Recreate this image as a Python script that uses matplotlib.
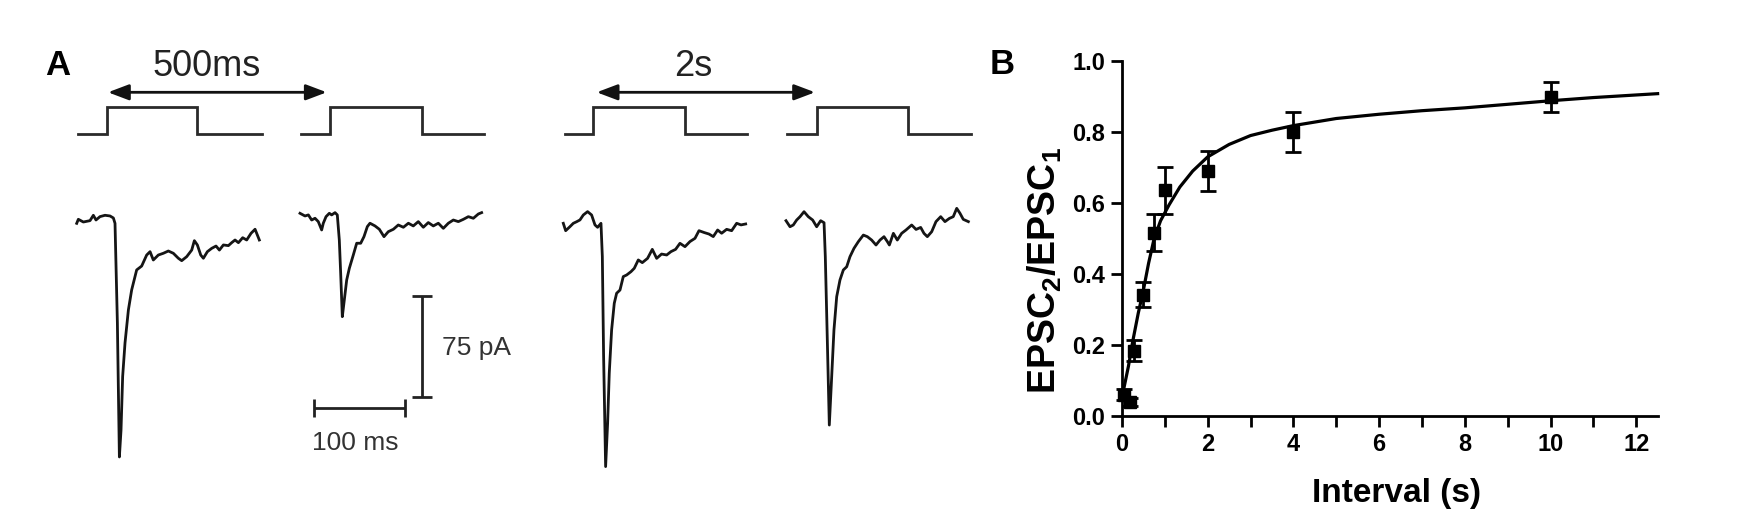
import matplotlib
matplotlib.use('Agg')
import matplotlib.pyplot as plt

# ---------------- data: panel B ----------------
interval_s = [0.05, 0.18, 0.28, 0.5, 0.75, 1.0, 2.0, 4.0, 10.0]
ratio = [0.06, 0.04, 0.184, 0.342, 0.516, 0.636, 0.690, 0.800, 0.899]
ratio_sem = [0.015, 0.012, 0.03, 0.035, 0.052, 0.066, 0.057, 0.055, 0.042]
fit_x = [0.03, 0.15, 0.25, 0.38, 0.5, 0.62, 0.75, 0.9, 1.1, 1.35, 1.65, 2.0,
         2.5, 3.0, 3.5, 4.0, 5.0, 6.0, 7.0, 8.0, 9.0, 10.0, 11.0, 12.5]
fit_y = [0.07, 0.14, 0.21, 0.29, 0.355, 0.43, 0.50, 0.55, 0.595, 0.645, 0.69, 0.73,
         0.765, 0.79, 0.805, 0.818, 0.838, 0.85, 0.86, 0.868, 0.878, 0.888, 0.897, 0.908]
x_ticks = list(range(13))
x_tick_labels = ['0', '', '2', '', '4', '', '6', '', '8', '', '10', '', '12']
y_ticks = [0.0, 0.2, 0.4, 0.6, 0.8, 1.0]
y_tick_labels = ['0.0', '0.2', '0.4', '0.6', '0.8', '1.0']

# ---------------- data: panel A traces (ms, pA) ----------------
trace1_t = [0, 1.8, 7.3, 14.6, 18.3, 21.2, 25.6, 31.1, 36.6, 40.3, 42.1, 44.7, 46.9, 48.7, 50.5,
            53.1, 56.8, 60.4, 65.9, 71.4, 76.9, 80.6, 84.2, 89.7, 95.2, 100.7, 106.2, 111.7, 115.4,
            120.9, 126.4, 129.3, 132.6, 136.3, 139.2, 143.6, 148.4, 153.1, 156.8, 161.2, 166.7,
            170.3, 174.0, 177.7, 182.4, 186.8, 191.6, 196.0, 200.7]
trace1_i = [-1, 2, 0, 1, 5, 1.5, 4, 5, 4.5, 3, -1, -75, -175, -155, -115, -90, -65.5, -50.6,
            -35.7, -32.8, -24.6, -22.1, -28.3, -24.6, -23.3, -21.6, -23.3, -27, -28.8, -25.8,
            -20.9, -13.9, -17.1, -24.6, -27, -22.1, -19.6, -17.9, -20.9, -17.1, -17.6, -15.4,
            -13.4, -15.4, -11.7, -13.4, -8.4, -5.4, -13.4]

trace2_t = [0, 5.5, 9.2, 12.8, 16.5, 20.1, 23.8, 25.6, 28.6, 32.2, 34.8, 38.5, 41, 43.2, 44.7,
            46.5, 48.7, 51.3, 54.2, 58.6, 62.3, 66.7, 70.3, 74, 76.9, 82.4, 87.2, 92.3, 97, 102.6,
            108, 113.6, 119.1, 124.5, 130, 135.5, 141, 146.5, 152, 157.5, 163, 168.5, 174, 179.5,
            185, 190.5, 196, 199.6]
trace2_i = [0, -2, -1.2, -5, -3.7, -6.2, -12.4, -7.4, -2.5, 0, -1.2, 0.5, -1.2, -19.9, -44.7,
            -77, -64.5, -49.7, -41, -31, -22.3, -22.3, -17.4, -9.9, -7.4, -9.4, -11.9, -17.4,
            -13.7, -11.9, -8.7, -10.4, -7.4, -9.4, -6.2, -10.4, -6.9, -9.4, -7.4, -11.2, -7.4,
            -5, -6.2, -4.5, -2.5, -3.7, -0.5, 0.5]

trace3_t = [0, 2.6, 7.3, 11, 14.7, 18.3, 22, 26.7, 31.1, 34.8, 37.7, 41.4, 42.9, 44.3, 46.5,
            48.7, 50.5, 53.1, 56, 58.6, 62.3, 65.9, 69.6, 74.4, 78, 82.4, 86.8, 92.6, 97.8, 102.6,
            108, 113.6, 118.3, 123.4, 128.2, 133.7, 139.2, 144.7, 149.1, 154.9, 160.1, 164.8,
            169.6, 174, 179.5, 185, 190.5, 195.3, 200.4]
trace3_i = [0, -5.5, -2.5, 0, 1.2, 2.5, 6.2, 8.7, 6.2, -1.2, -3, 0, -24.8, -99.3, -181.2, -149,
            -111.7, -79.4, -59.6, -52.1, -49.7, -39.7, -38.5, -36, -33.5, -27.3, -29.3, -26.1,
            -19.4, -26.1, -22.9, -23.6, -21.1, -19.4, -14.9, -17.4, -13.6, -11.2, -5.5, -6.9,
            -8, -9.9, -5, -7.4, -4.5, -5.5, 0, -1.2, -0.5]

trace4_t = [0, 4.4, 8, 11.7, 15.4, 19.8, 24.5, 29.3, 33.7, 38.1, 41.8, 43.2, 45.4, 47.6, 50.2,
            52.7, 55.7, 59.3, 63, 66.7, 70.3, 74.7, 79.5, 85, 89.4, 94.1, 98.9, 103.3, 107.7,
            111.4, 113.6, 118, 122.3, 127.1, 131.9, 138.1, 142.9, 148, 151.6, 155.3, 160.1,
            164.8, 170, 174.7, 179.5, 183.8, 187.6, 191.2, 194.8, 200.4]
trace4_i = [0, -4.5, -3.2, 0.5, 3, 6.7, 3, 0.5, -4.5, 0, -1.5, -26.8, -88.9, -152.2, -116.2,
            -81.4, -56.6, -44.2, -36.7, -34.3, -26.8, -20.6, -15.6, -10.7, -11.9, -14.4, -18.1,
            -14.4, -11.9, -15.6, -18.1, -9.4, -14.4, -9.4, -6.9, -3.2, -6.5, -5, -9.4, -11.9,
            -8.2, -0.7, 3, -0.7, 1.7, 3, 9.2, 5.5, 1, -0.7]

interval_labels = ['500ms', '2s']
scale_time_ms = 100
scale_current_pA = 75

# ---------------- layout (pixel positions) ----------------
W, H = 1759, 532
PX_PER_MS = 0.91
PX_PER_PA = 100.7 / 75.0

fig = plt.figure(figsize=(W / 100, H / 100), dpi=100)
fig.patch.set_facecolor('white')

# Panel A axes: x in ms, y in pA
A_W = 1000
axA = fig.add_axes([0, 0, A_W / W, 1])
axA.set_xlim(0, A_W / PX_PER_MS)
axA.set_ylim(-H / PX_PER_PA, 0)
axA.axis('off')


def mx(px):
    return px / PX_PER_MS


def my(py):
    return -py / PX_PER_PA


tcol = '#151515'
traces = [(trace1_t, trace1_i), (trace2_t, trace2_i), (trace3_t, trace3_i), (trace4_t, trace4_i)]
origins = [(76.7, 222), (300, 213.3), (563.3, 223.3), (786, 220.7)]
for (t, i), (ox, oy) in zip(traces, origins):
    axA.plot([mx(ox) + v for v in t], [my(oy) + v for v in i], color=tcol, lw=2.0,
             solid_joinstyle='round')

# stimulus pulses
scol = '#2a2a2a'
stim_base, stim_top = 134.3, 106.7
stims = [(78, 106.7, 197.3, 261.7), (300.7, 330, 421.7, 484),
         (565, 592.7, 685, 746.7), (787.3, 816.7, 908.3, 970.7)]
for a, b, c, d in stims:
    axA.plot([mx(a), mx(b), mx(b), mx(c), mx(c), mx(d)],
             [my(stim_base), my(stim_base), my(stim_top), my(stim_top), my(stim_base), my(stim_base)],
             color=scol, lw=2.0, solid_joinstyle='miter')

# interval arrows
arrows = [(108, 326.7, 207, interval_labels[0]), (596.7, 815, 693, interval_labels[1])]
for x0, x1, xt, lab in arrows:
    axA.annotate('', xy=(mx(x1), my(92.3)), xytext=(mx(x0), my(92.3)),
                 arrowprops=dict(arrowstyle='<|-|>,head_length=0.45,head_width=0.17',
                                 mutation_scale=28, lw=2.0, color='#111111',
                                 shrinkA=0, shrinkB=0))
    axA.text(mx(xt), my(66), lab, ha='center', va='center', fontsize=26,
             family='Liberation Sans', color='#222222')

# scale bars
bcol = '#222222'
hx0, hy = 314, 408.3
axA.errorbar([mx(hx0) + scale_time_ms / 2], [my(hy)], xerr=[scale_time_ms / 2], fmt='none',
             ecolor=bcol, elinewidth=2.0, capsize=6.5, capthick=2.0)
vx, vy0 = 421.7, 396.7
axA.errorbar([mx(vx)], [my(vy0) + scale_current_pA / 2], yerr=[scale_current_pA / 2], fmt='none',
             ecolor=bcol, elinewidth=2.0, capsize=7.5, capthick=2.0)
axA.text(mx(441.7), my(348.3), f'{scale_current_pA} pA', ha='left', va='center', fontsize=19,
         family='Liberation Sans', color='#333333')
axA.text(mx(311.7), my(443), f'{scale_time_ms} ms', ha='left', va='center', fontsize=19,
         family='Liberation Sans', color='#333333')

# panel letters
fig.text(45 / W, 1 - 65.5 / H, 'A', ha='left', va='center', fontsize=25, fontweight='bold',
         family='Liberation Sans')
fig.text(990 / W, 1 - 64 / H, 'B', ha='left', va='center', fontsize=25, fontweight='bold',
         family='Liberation Sans')

# ---------------- Panel B ----------------
plt.rcParams['mathtext.fontset'] = 'custom'
plt.rcParams['mathtext.rm'] = 'Liberation Sans:bold'
plt.rcParams['mathtext.bf'] = 'Liberation Sans:bold'
plt.rcParams['mathtext.it'] = 'Liberation Sans:bold'

PX_PER_UNIT_X = 42.85
x0px, y0px, y1px = 1122, 416, 61
axB = fig.add_axes([x0px / W, (H - y0px) / H, 12.5 * PX_PER_UNIT_X / W, (y0px - y1px) / H])
axB.set_xlim(0, 12.5)
axB.set_ylim(0, 1.0)
for s in ['top', 'right']:
    axB.spines[s].set_visible(False)
for s in ['left', 'bottom']:
    axB.spines[s].set_linewidth(2.0)
    axB.spines[s].set_capstyle('projecting')

axB.plot(fit_x, fit_y, color='black', lw=2.3, solid_joinstyle='round', clip_on=False, zorder=3)
axB.errorbar(interval_s, ratio, yerr=ratio_sem, fmt='s', color='black', ms=9,
             elinewidth=2.0, capsize=5.5, capthick=2.0, clip_on=False, zorder=4)

axB.set_xticks(x_ticks)
axB.set_xticklabels(x_tick_labels)
axB.set_yticks(y_ticks)
axB.set_yticklabels(y_tick_labels)
axB.tick_params(axis='both', direction='out', length=8, width=2.0, pad=4, labelsize=17)
for lab in axB.get_xticklabels() + axB.get_yticklabels():
    lab.set_fontweight('bold')
    lab.set_family('Liberation Sans')

axB.set_xlabel('Interval (s)', fontsize=24, fontweight='bold', family='Liberation Sans')
axB.set_ylabel(r'EPSC$_{2}$/EPSC$_{1}$', fontsize=27, fontweight='bold', family='Liberation Sans')
axB.xaxis.set_label_coords(0.512, -0.175)
axB.yaxis.set_label_coords(-0.108, 0.41)

fig.savefig('out.png', dpi=100, facecolor='white')
